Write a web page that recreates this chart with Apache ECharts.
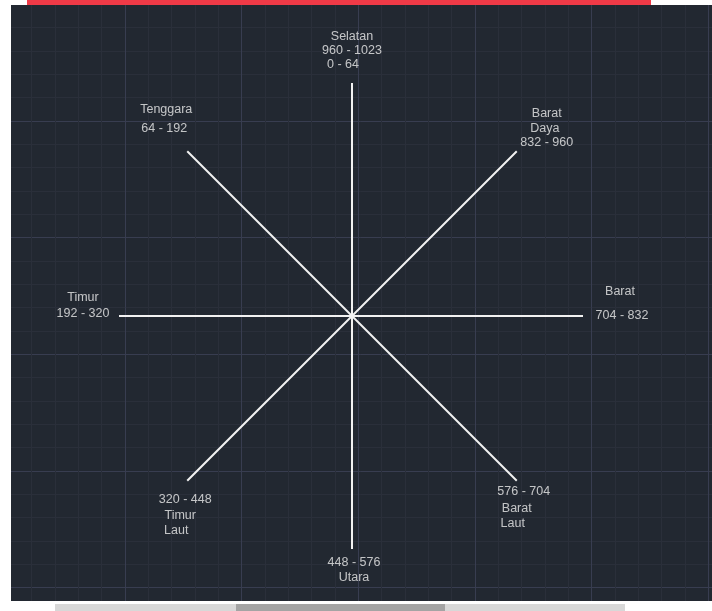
<!DOCTYPE html>
<html>
<head>
<meta charset="utf-8">
<script src="https://cdn.jsdelivr.net/npm/echarts@6/dist/echarts.min.js"></script>
<style>html,body{margin:0;padding:0;background:#fff;}#c{width:712px;height:611px;}</style>
</head>
<body>
<div id="c"></div>
<script>
// ---- data ----
const directions = ['Selatan', 'Barat Daya', 'Barat', 'Barat Laut', 'Utara', 'Timur Laut', 'Timur', 'Tenggara'];
const anglesDeg = [90, 45, 0, -45, -90, -135, 180, 135];
const rayLength = [233, 233, 231, 233, 233, 233, 233, 233];
const ranges = ['960 - 1023', '832 - 960', '704 - 832', '576 - 704', '448 - 576', '320 - 448', '192 - 320', '64 - 192'];
const extraRange = '0 - 64';

// label line texts per direction (order of lines as shown)
const labelTexts = [
  ['Selatan', ranges[0], extraRange],
  ['Barat', 'Daya', ranges[1]],
  ['Barat', ranges[2]],
  [ranges[3], 'Barat', 'Laut'],
  [ranges[4], 'Utara'],
  [ranges[5], 'Timur', 'Laut'],
  ['Timur', ranges[6]],
  ['Tenggara', ranges[7]]
];
// styling: label offsets (px) from the ray end
const labelOffsets = [
  [[0, -46], [0, -32], [-9, -18]],
  [[30, -38], [28, -23], [30, -9]],
  [[37, -24], [39, 0]],
  [[7, 11], [0, 28], [-4, 43]],
  [[2, 14], [2, 29]],
  [[-2, 19], [-7, 35], [-11, 50]],
  [[-36, -18], [-36, -2]],
  [[-21, -42], [-23, -23]]
];

const chart = echarts.init(document.getElementById('c'));
const ends = anglesDeg.map((a, i) => {
  const r = a * Math.PI / 180;
  return [rayLength[i] * Math.cos(r), rayLength[i] * Math.sin(r)];
});

const series = [];
ends.forEach((e, i) => {
  series.push({
    type: 'line', xAxisIndex: 1, yAxisIndex: 1, symbol: 'none', silent: true,
    lineStyle: { color: '#f2f2f2', width: 2 },
    data: [[0, 0], e], z: 5
  });
});
const labelData = [];
labelTexts.forEach((lines, i) => {
  lines.forEach((t, j) => {
    labelData.push({
      value: ends[i],
      label: { show: true, formatter: t, offset: labelOffsets[i][j], position: 'inside' }
    });
  });
});
series.push({
  type: 'scatter', xAxisIndex: 1, yAxisIndex: 1, symbolSize: 0, silent: true, z: 6,
  label: { color: '#ececec', fontSize: 12.5, fontFamily: 'Liberation Sans, Arial, sans-serif', align: 'center', verticalAlign: 'middle' },
  data: labelData
});

const hidden = { axisLine: { show: false }, axisTick: { show: false }, axisLabel: { show: false } };
const gridAxis = {
  type: 'value', interval: 5,
  splitLine: { show: true, lineStyle: { color: '#383d50', width: 1 } },
  minorTick: { show: false, splitNumber: 5 },
  minorSplitLine: { show: true, lineStyle: { color: '#2a2f3a', width: 1 } },
  ...hidden
};

chart.setOption({
  backgroundColor: '#ffffff',
  animation: false,
  grid: { left: 8.33, top: 4.33, right: 0, bottom: 0, show: true, backgroundColor: '#222831', borderWidth: 0 },
  xAxis: [
    Object.assign({}, gridAxis, { min: 0, max: 30.157 }),
    Object.assign({ type: 'value', min: -343.67, max: 360, splitLine: { show: false } }, hidden)
  ],
  yAxis: [
    Object.assign({}, gridAxis, { min: 0, max: 26, inverse: true }),
    Object.assign({ type: 'value', min: -295, max: 311.67, splitLine: { show: false } }, hidden)
  ],
  series: series,
  graphic: [
    { type: 'rect', z: 100, shape: { x: 0, y: 0, width: 11, height: 611 }, style: { fill: '#ffffff' } },
    { type: 'rect', z: 100, shape: { x: 0, y: 0, width: 712, height: 5 }, style: { fill: '#ffffff' } },
    { type: 'rect', z: 101, shape: { x: 27, y: 0, width: 624, height: 5 }, style: { fill: '#f03a47' } },
    { type: 'rect', z: 100, shape: { x: 0, y: 601, width: 712, height: 10 }, style: { fill: '#ffffff' } },
    { type: 'rect', z: 101, shape: { x: 55, y: 604, width: 570, height: 7 }, style: { fill: '#d8d8d8' } },
    { type: 'rect', z: 102, shape: { x: 236, y: 604, width: 209, height: 7 }, style: { fill: '#a4a4a4' } }
  ]
});
</script>
</body>
</html>
